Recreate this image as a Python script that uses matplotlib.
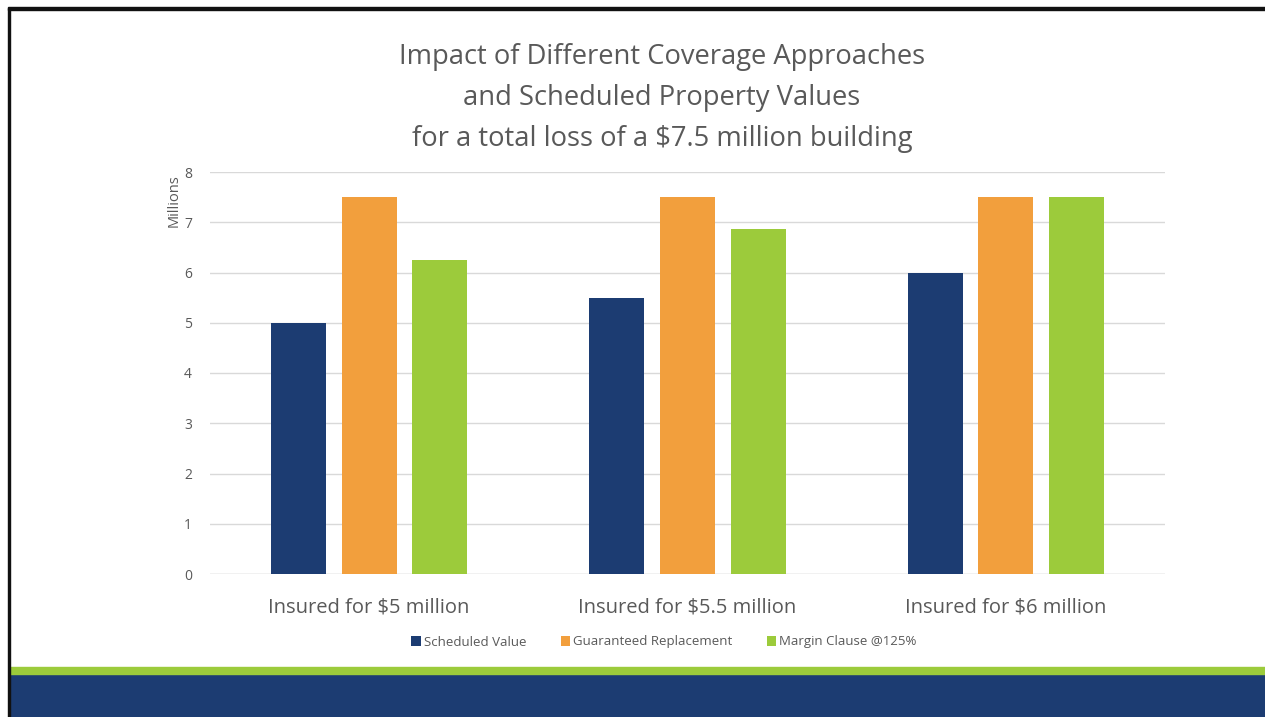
import matplotlib
matplotlib.use("Agg")
import matplotlib.pyplot as plt
from matplotlib.patches import Rectangle
import numpy as np

categories = ["Insured for $5 million", "Insured for $5.5 million", "Insured for $6 million"]
series_names = ["Scheduled Value", "Guaranteed Replacement", "Margin Clause @125%"]
scheduled = [5.0, 5.5, 6.0]
guaranteed = [7.5, 7.5, 7.5]
margin = [6.25, 6.875, 7.5]
colors = ["#1c3c72", "#f29f3d", "#9ccb3b"]
yticks = [0, 1, 2, 3, 4, 5, 6, 7, 8]

plt.rcParams['font.family'] = ['Open Sans', 'DejaVu Sans']
W, H = 1265, 717
fig = plt.figure(figsize=(W/100, H/100), dpi=100)

# slide frame
fig.add_artist(Rectangle((8/W, 0), 2/W, 1 - 8/H, transform=fig.transFigure, color="#111111", zorder=5))
fig.add_artist(Rectangle((8/W, 1 - 10/H), 1 - 8/W, 2.5/H, transform=fig.transFigure, color="#111111", zorder=5))
fig.add_artist(Rectangle((10/W, 0), 1, 43/H, transform=fig.transFigure, color="#1c3c72", zorder=4))
fig.add_artist(Rectangle((10/W, 43/H), 1, 7/H, transform=fig.transFigure, color="#9ccb3b", zorder=4))

ax = fig.add_axes([210/W, 1 - 574/H, 955/W, (574-172)/H])
x = np.arange(len(categories))
bw = 0.173
step = 0.222
for i, (vals, name) in enumerate(zip([scheduled, guaranteed, margin], series_names)):
    ax.bar(x + (i - 1) * step, vals, width=bw, color=colors[i], label=name, zorder=3)

ax.set_xlim(-0.5, 2.5)
ax.set_ylim(0, 8)
ax.set_yticks(yticks)
ax.set_yticklabels([str(v) for v in yticks], fontsize=10, color="#595959")
ax.set_xticks(x)
ax.set_xticklabels(categories, fontsize=14.5, color="#595959")
ax.tick_params(axis='x', length=0, pad=17)
ax.tick_params(axis='y', length=0, pad=13)
ax.grid(axis='y', color="#d9d9d9", linewidth=1, zorder=0)
for s in ax.spines.values():
    s.set_visible(False)
ax.axhline(0, color="#d9d9d9", linewidth=1, zorder=1)
ax.set_ylabel("Millions", fontsize=10.5, color="#595959")
ax.yaxis.set_label_coords(-0.030, 0.93)

fig.text(662/W, 1 - 98/H, "Impact of Different Coverage Approaches\nand Scheduled Property Values\nfor a total loss of a $7.5 million building",
         ha='center', va='center', fontsize=19.7, color="#595959", linespacing=1.6)

leg = fig.legend(loc='center', bbox_to_anchor=(664/W, 1 - 642/H), ncol=3, frameon=False,
                 fontsize=9.5, labelcolor="#595959", handlelength=0.7, handleheight=0.7,
                 handletextpad=0.25, columnspacing=2.6)

fig.savefig("out.png", dpi=100, facecolor="white")
